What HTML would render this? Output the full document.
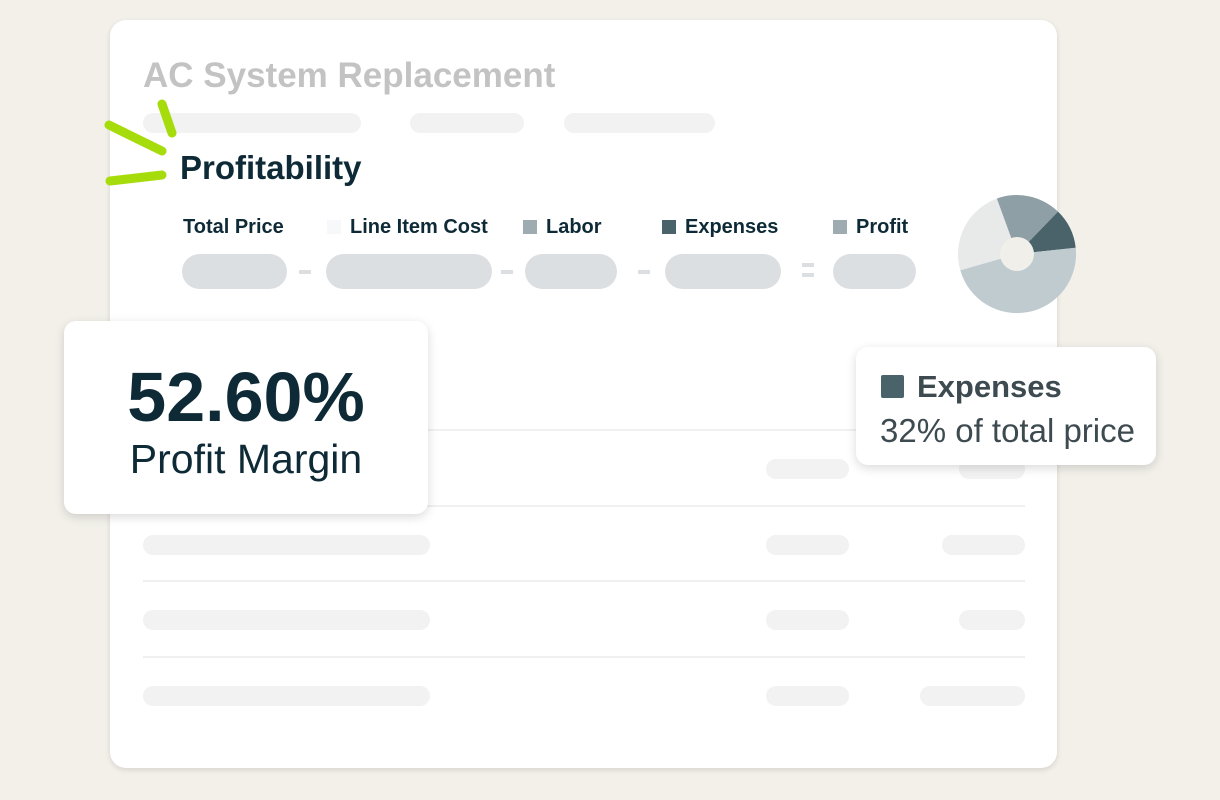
<!DOCTYPE html><html><head><style>
body{margin:0;width:1220px;height:800px;background:#f3f0ea;position:relative;overflow:hidden;font-family:"Liberation Sans",sans-serif}
.a{position:absolute}
.card{left:110px;top:20px;width:947px;height:748px;background:#fff;border-radius:16px;box-shadow:0 2px 6px rgba(0,0,0,.12)}
.bar{position:absolute;background:#f2f2f2;border-radius:11px;height:20px}
.pill{position:absolute;background:#dcdfe1;border-radius:18px;height:35px;top:254px}
.dash{position:absolute;background:#dcdfe1;height:4px;width:12px;top:270px}
.lbl{position:absolute;top:216px;font-weight:bold;font-size:20px;color:#0e2a36}
.sq{display:inline-block;width:14px;height:14px;margin-right:9px;vertical-align:-1px}
.line{position:absolute;left:143px;width:882px;height:2px;background:#f0f0f0}
</style></head><body>
<div class="a card"></div>
<div class="a" style="left:143px;top:56px;font-size:35px;font-weight:bold;color:#c3c3c3">AC System Replacement</div>
<div class="bar" style="left:143px;top:113px;width:218px"></div>
<div class="bar" style="left:410px;top:113px;width:114px"></div>
<div class="bar" style="left:564px;top:113px;width:151px"></div>
<svg class="a" style="left:0;top:0" width="200" height="200"><g stroke="#a6dc0b" stroke-width="9" stroke-linecap="round"><line x1="162" y1="104" x2="172" y2="133"/><line x1="109" y1="125" x2="162" y2="151"/><line x1="110" y1="181" x2="162" y2="175"/></g></svg>
<div class="a" style="left:180px;top:149px;font-size:33px;font-weight:bold;color:#0e2a36">Profitability</div>
<div class="lbl" style="left:183px">Total Price</div>
<div class="lbl" style="left:327px"><span class="sq" style="background:#f7f8f9"></span>Line Item Cost</div>
<div class="lbl" style="left:523px"><span class="sq" style="background:#9eabb0"></span>Labor</div>
<div class="lbl" style="left:662px"><span class="sq" style="background:#4a636b"></span>Expenses</div>
<div class="lbl" style="left:833px"><span class="sq" style="background:#9eabb0"></span>Profit</div>
<div class="pill" style="left:182px;width:105px"></div>
<div class="dash" style="left:299px"></div>
<div class="pill" style="left:326px;width:166px"></div>
<div class="dash" style="left:501px"></div>
<div class="pill" style="left:525px;width:92px"></div>
<div class="dash" style="left:638px"></div>
<div class="pill" style="left:665px;width:116px"></div>
<div class="dash" style="left:802px;top:263px"></div><div class="dash" style="left:802px;top:273px"></div>
<div class="pill" style="left:833px;width:83px"></div>
<svg class="a" style="left:940px;top:176px" width="160" height="160">
<g transform="translate(77,78)">
<path d="M0 0 L-20.2 -55.4 A59 59 0 0 1 41 -42.4Z" fill="#8e9fa5"/>
<path d="M0 0 L41 -42.4 A59 59 0 0 1 58.7 -6.2Z" fill="#4a636b"/>
<path d="M0 0 L58.7 -6.2 A59 59 0 0 1 -56.7 16.3Z" fill="#bfcbcf"/>
<path d="M0 0 L-56.7 16.3 A59 59 0 0 1 -20.2 -55.4Z" fill="#e8e9e9"/>
<circle r="17" fill="#f1efe9"/></g></svg>
<div class="line" style="top:429px"></div>
<div class="line" style="top:505px"></div>
<div class="line" style="top:580px"></div>
<div class="line" style="top:656px"></div>
<div class="bar" style="left:766px;top:459px;width:83px"></div><div class="bar" style="left:959px;top:459px;width:66px"></div>
<div class="bar" style="left:143px;top:535px;width:287px"></div><div class="bar" style="left:766px;top:535px;width:83px"></div><div class="bar" style="left:942px;top:535px;width:83px"></div>
<div class="bar" style="left:143px;top:610px;width:287px"></div><div class="bar" style="left:766px;top:610px;width:83px"></div><div class="bar" style="left:959px;top:610px;width:66px"></div>
<div class="bar" style="left:143px;top:686px;width:287px"></div><div class="bar" style="left:766px;top:686px;width:83px"></div><div class="bar" style="left:920px;top:686px;width:105px"></div>
<div class="a" style="left:64px;top:321px;width:364px;height:193px;background:#fff;border-radius:12px;box-shadow:0 3px 10px rgba(0,0,0,.15);text-align:center;color:#0e2a36">
<div style="margin-top:38px;font-size:70px;font-weight:bold;line-height:76px">52.60%</div>
<div style="font-size:41px;line-height:48px">Profit Margin</div></div>
<div class="a" style="left:856px;top:347px;width:300px;height:118px;background:#fff;border-radius:12px;box-shadow:0 3px 10px rgba(0,0,0,.15)">
<div class="a" style="left:25px;top:28px;width:23px;height:23px;background:#4a636b;border-radius:2px"></div>
<div class="a" style="left:61px;top:22px;font-size:31px;font-weight:bold;color:#3d4a50">Expenses</div>
<div class="a" style="left:24px;top:65px;font-size:33px;color:#3d4a50">32% of total price</div></div>
</body></html>
